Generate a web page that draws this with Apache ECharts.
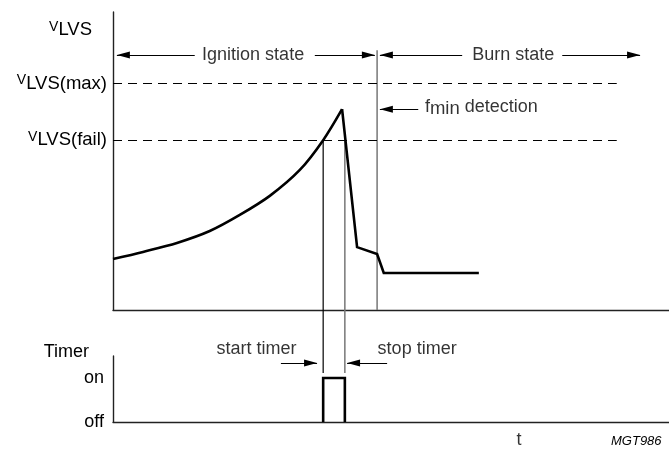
<!DOCTYPE html>
<html>
<head>
<meta charset="utf-8">
<script src="https://cdn.jsdelivr.net/npm/echarts@6/dist/echarts.min.js"></script>
<style>
html, body { margin: 0; padding: 0; background: #fff; }
#chart { width: 669px; height: 450px; }
</style>
</head>
<body>
<div id="chart"></div>
<script>
// time runs 0..100, V_LVS runs 0..100 (arbitrary units), timer off = 0 / on = 1
var riseT = [0, 5.4, 11.5, 17.4, 22.8, 28.2, 33.6, 37.8, 41.2];
var riseV = [17.1, 19.5, 22.5, 26.5, 31.9, 38.3, 47.0, 57.0, 67.4];
var fallT = [41.2, 43.9, 47.5, 48.7, 65.8];
var fallV = [67.4, 21.1, 18.8, 12.4, 12.4];

var vFail = 57, vMax = 76, vTitle = 94;
var levelEndT = 90.6;
var tStart = 37.8, tStop = 41.7, tFmin = 47.5;
var vStateRow = 85.6, vFminRow = 67.4, vFminTop = 87.2, vBelow = -21.1;

var timerT = [37.8, 37.8, 41.7, 41.7];
var timerV = [0, 1, 1, 0];
var timerArrowV = 1.34, timerTextV = 1.66;

var FONT = 'Arial, "Liberation Sans", Helvetica, sans-serif';
var arrowSym = 'path://M5,0L10,14L0,14Z';

function pairs(xs, ys) {
    return xs.map(function (x, i) { return [x, ys[i]]; });
}
function arrow(x1, y1, x2, y2) {
    return [
        { coord: [x1, y1], symbol: 'none' },
        { coord: [x2, y2], symbol: arrowSym, symbolSize: [7, 13], symbolOffset: [0, '50%'] }
    ];
}
function dashed(v) {
    return [{ coord: [0, v], symbol: 'none' }, { coord: [levelEndT, v], symbol: 'none' }];
}

var rich = {
    v: { fontSize: 14, fontFamily: FONT, color: '#000', padding: [0, 0, 6, 0] },
    s: { fontSize: 18.5, fontFamily: FONT, color: '#000' },
    n: { fontSize: 18, fontFamily: FONT, color: '#000', padding: [0, 0, 5, 0] },
    gap: { width: 15 }
};
var vLabels = {};
vLabels[vTitle] = '{v|V}{s|LVS}{gap|}';
vLabels[vMax] = '{v|V}{s|LVS(max)}';
vLabels[vFail] = '{v|V}{s|LVS(fail)}';

var axisLine = { show: true, lineStyle: { color: '#222', width: 1.4 } };
var textLabel = { show: true, position: [0, 0], align: 'center', verticalAlign: 'middle',
    fontSize: 18, fontFamily: FONT, color: '#000', formatter: '{b}', rich: rich };

var chart = echarts.init(document.getElementById('chart'));
chart.setOption({
    animation: false,
    backgroundColor: '#fff',
    title: {
        text: 'MGT986', left: 606, top: 430,
        textStyle: { fontSize: 13, fontStyle: 'italic', fontWeight: 'normal', fontFamily: FONT, color: '#000' }
    },
    grid: [
        { left: 113, right: 0, top: 12, height: 298 },
        { left: 113, right: 0, top: 356, height: 66 }
    ],
    xAxis: [
        { gridIndex: 0, type: 'value', min: 0, max: 100, axisLine: axisLine,
          axisTick: { show: false }, axisLabel: { show: false }, splitLine: { show: false } },
        { gridIndex: 1, type: 'value', min: 0, max: 100, axisLine: axisLine,
          axisTick: { show: false }, axisLabel: { show: false }, splitLine: { show: false } }
    ],
    yAxis: [
        { gridIndex: 0, type: 'value', min: 0, max: 100, axisLine: axisLine,
          axisTick: { show: false }, splitLine: { show: false },
          axisLabel: { customValues: [vFail, vMax, vTitle], margin: 6, rich: rich,
              formatter: function (v) { return vLabels[v]; } } },
        { gridIndex: 1, type: 'value', min: 0, max: 1.5, axisLine: axisLine,
          axisTick: { show: false }, splitLine: { show: false },
          name: 'Timer', nameLocation: 'end', nameGap: 4,
          nameTextStyle: { align: 'right', verticalAlign: 'middle', padding: [0, 24, 0, 0],
              fontSize: 18, fontFamily: FONT, color: '#000' },
          axisLabel: { customValues: [0, 1], margin: 9, fontSize: 18, fontFamily: FONT, color: '#000',
              formatter: function (v) { return v === 1 ? 'on' : 'off'; } } }
    ],
    series: [
        {
            name: 'rise', type: 'line', xAxisIndex: 0, yAxisIndex: 0,
            data: pairs(riseT, riseV), smooth: 0.3, showSymbol: false,
            lineStyle: { color: '#000', width: 2.6 },
            markLine: {
                silent: true, label: { show: false },
                lineStyle: { color: '#000', width: 1.2, type: 'solid' },
                data: [
                    arrow(14.7, vStateRow, 0.7, vStateRow),
                    arrow(36.3, vStateRow, 47.1, vStateRow),
                    arrow(62.8, vStateRow, 48.0, vStateRow),
                    arrow(80.8, vStateRow, 94.8, vStateRow),
                    arrow(54.9, vFminRow, 48.0, vFminRow)
                ]
            }
        },
        {
            name: 'fall', type: 'line', xAxisIndex: 0, yAxisIndex: 0,
            data: pairs(fallT, fallV), showSymbol: false,
            lineStyle: { color: '#000', width: 2.6, join: 'miter' },
            markLine: {
                silent: true, label: { show: false },
                lineStyle: { color: '#000', width: 1.2, type: [9, 6] },
                data: [dashed(vMax), dashed(vFail)]
            }
        },
        {
            name: 'start', type: 'line', xAxisIndex: 0, yAxisIndex: 0, clip: false,
            data: [[tStart, vFail], [tStart, vBelow]], showSymbol: false,
            lineStyle: { color: '#000', width: 1.2 }, z: 1
        },
        {
            name: 'stop', type: 'line', xAxisIndex: 0, yAxisIndex: 0, clip: false,
            data: [[tStop, vFail], [tStop, vBelow]], showSymbol: false,
            lineStyle: { color: '#777', width: 1.5 }, z: 1
        },
        {
            name: 'fmin', type: 'line', xAxisIndex: 0, yAxisIndex: 0, clip: false,
            data: [[tFmin, vFminTop], [tFmin, 0]], showSymbol: false,
            lineStyle: { color: '#777', width: 1.5 }, z: 1
        },
        {
            name: 'notesTop', type: 'scatter', xAxisIndex: 0, yAxisIndex: 0, clip: false,
            symbolSize: 0, silent: true, label: textLabel,
            data: [
                { name: 'Ignition state', value: [25.2, vStateRow] },
                { name: 'Burn state', value: [72, vStateRow] },
                { name: '{n|f}{s|min}{n| detection}', value: [56.1, vFminRow],
                  label: { align: 'left' } }
            ]
        },
        {
            name: 'timer', type: 'line', xAxisIndex: 1, yAxisIndex: 1, clip: false,
            data: pairs(timerT, timerV), showSymbol: false,
            lineStyle: { color: '#000', width: 2.6, join: 'miter' },
            markLine: {
                silent: true, label: { show: false },
                lineStyle: { color: '#000', width: 1.2, type: 'solid' },
                data: [
                    arrow(30.2, timerArrowV, 36.7, timerArrowV),
                    arrow(49.3, timerArrowV, 42.1, timerArrowV)
                ]
            }
        },
        {
            name: 'notesBottom', type: 'scatter', xAxisIndex: 1, yAxisIndex: 1, clip: false,
            symbolSize: 0, silent: true, label: textLabel,
            data: [
                { name: 'start timer', value: [25.8, timerTextV] },
                { name: 'stop timer', value: [54.7, timerTextV] },
                { name: 't', value: [73, -0.41] }
            ]
        }
    ]
});
</script>
</body>
</html>
